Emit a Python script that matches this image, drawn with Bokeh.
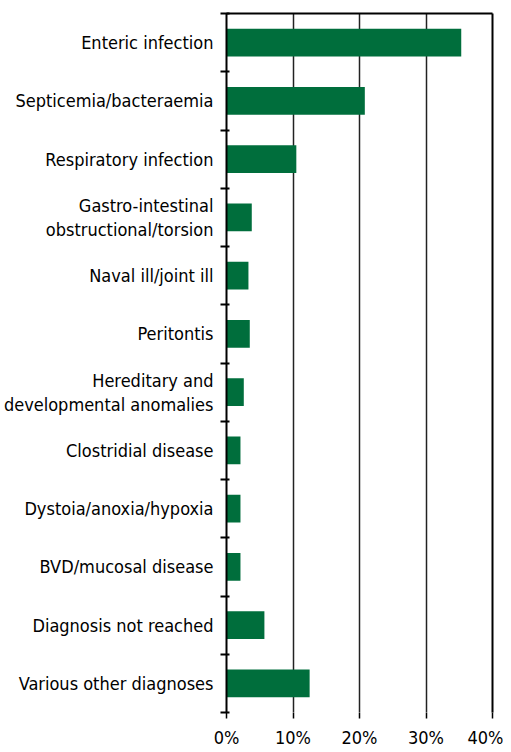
from bokeh.plotting import figure
from bokeh.models import Range1d, FixedTicker, LinearAxis, Grid
from bokeh.embed import file_html
from bokeh.resources import INLINE

categories = [
    "Enteric infection",
    "Septicemia/bacteraemia",
    "Respiratory infection",
    "Gastro-intestinal\nobstructional/torsion",
    "Naval ill/joint ill",
    "Peritontis",
    "Hereditary and\ndevelopmental anomalies",
    "Clostridial disease",
    "Dystoia/anoxia/hypoxia",
    "BVD/mucosal disease",
    "Diagnosis not reached",
    "Various other diagnoses",
]
values = [35.3, 20.8, 10.5, 3.8, 3.3, 3.5, 2.6, 2.1, 2.1, 2.1, 5.7, 12.5]
x_ticks = [0, 10, 20, 30, 40]
x_tick_labels = ["0%", "10%", "20%", "30%", "40%"]

FONT = "DejaVu Sans Condensed, sans-serif"
GREEN = "#006e3c"

n = len(categories)
ypos = list(range(1, n + 1))

p = figure(width=503, height=750, output_backend="svg", toolbar_location=None,
           x_range=Range1d(0, 40), y_range=Range1d(n + 0.5, 0.5),
           min_border_left=226, min_border_right=11, min_border_top=13,
           min_border_bottom=34, x_axis_type=None, y_axis_type=None)
p.outline_line_color = None
p.background_fill_color = "white"
p.border_fill_color = "white"

p.hbar(y=ypos, right=values, left=0, height=0.48, fill_color=GREEN, line_color=None)

# x axis (bottom): ticks and labels only
xa = LinearAxis(ticker=FixedTicker(ticks=x_ticks),
                major_label_overrides={t: l for t, l in zip(x_ticks, x_tick_labels)})
xa.axis_line_color = None
xa.major_tick_line_color = "black"
xa.major_tick_line_width = 1.5
xa.major_tick_out = 6
xa.major_tick_in = 0
xa.minor_tick_line_color = None
xa.major_label_standoff = 8
xa.major_label_text_font = FONT
xa.major_label_text_font_size = "18px"
xa.major_label_text_color = "black"
p.add_layout(xa, "below")

# y axis (left): labels at centers, ticks at boundaries
boundaries = [i + 0.5 for i in range(0, n + 1)]
ya = LinearAxis(ticker=FixedTicker(ticks=ypos, minor_ticks=boundaries),
                major_label_overrides={y: c for y, c in zip(ypos, categories)})
ya.axis_line_color = "black"
ya.axis_line_width = 2
ya.major_tick_line_color = None
ya.major_tick_out = 0
ya.major_tick_in = 0
ya.minor_tick_line_color = "black"
ya.minor_tick_line_width = 2
ya.minor_tick_out = 6
ya.minor_tick_in = 3
ya.major_label_standoff = 7
ya.major_label_text_font = FONT
ya.major_label_text_font_size = "18px"
ya.major_label_text_color = "black"
ya.major_label_text_line_height = 1.15
p.add_layout(ya, "left")

# top and right frame lines
ta = LinearAxis(ticker=FixedTicker(ticks=[]))
ta.axis_line_color = "black"
ta.axis_line_width = 2
ta.major_tick_line_color = None
ta.minor_tick_line_color = None
ta.major_label_text_font_size = "0px"
p.add_layout(ta, "above")

ra = LinearAxis(ticker=FixedTicker(ticks=[]))
ra.axis_line_color = "black"
ra.axis_line_width = 2
ra.major_tick_line_color = None
ra.minor_tick_line_color = None
ra.major_label_text_font_size = "0px"
p.add_layout(ra, "right")

# vertical grid lines
p.xgrid.grid_line_color = None
p.ygrid.grid_line_color = None
g = Grid(dimension=0, ticker=FixedTicker(ticks=[10, 20, 30]))
g.grid_line_color = "#222222"
g.grid_line_width = 1.5
p.add_layout(g)

open("out.html", "w").write(file_html(p, INLINE))
